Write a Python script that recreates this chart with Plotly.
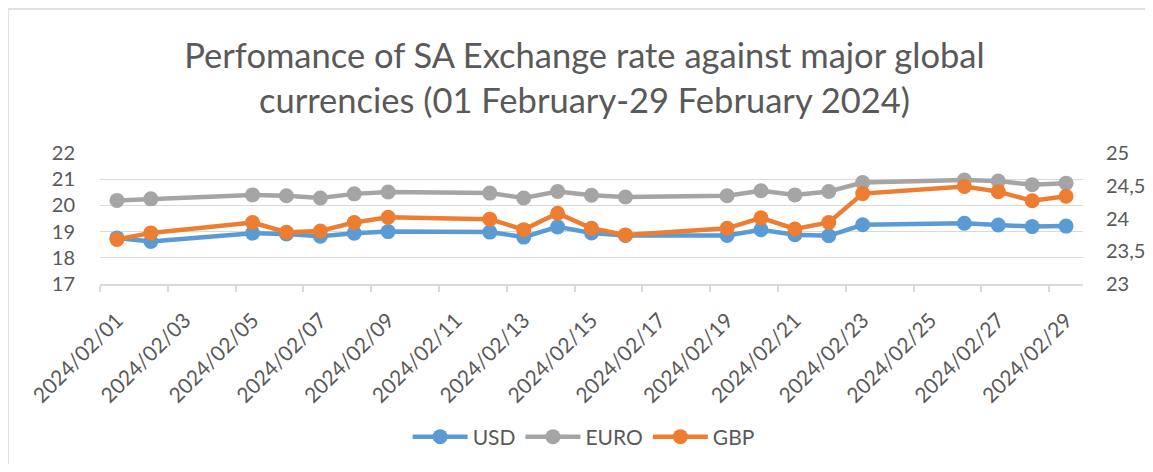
import pandas as pd
import plotly.graph_objects as go

dates = ["2024-02-01", "2024-02-02", "2024-02-05", "2024-02-06", "2024-02-07",
         "2024-02-08", "2024-02-09", "2024-02-12", "2024-02-13", "2024-02-14",
         "2024-02-15", "2024-02-16", "2024-02-19", "2024-02-20", "2024-02-21",
         "2024-02-22", "2024-02-23", "2024-02-26", "2024-02-27", "2024-02-28",
         "2024-02-29"]
usd = [18.76, 18.62, 18.94, 18.91, 18.82, 18.94, 19.00, 18.98, 18.79, 19.18,
       18.95, 18.85, 18.85, 19.07, 18.88, 18.84, 19.26, 19.32, 19.25, 19.19, 19.21]
euro = [20.19, 20.25, 20.40, 20.37, 20.28, 20.44, 20.51, 20.47, 20.28, 20.53,
        20.39, 20.32, 20.37, 20.56, 20.40, 20.53, 20.87, 20.97, 20.93, 20.79, 20.85]
gbp = [23.68, 23.78, 23.94, 23.79, 23.81, 23.94, 24.02, 23.99, 23.83, 24.08,
       23.85, 23.75, 23.85, 24.01, 23.84, 23.94, 24.38, 24.49, 24.41, 24.27, 24.34]

series = [("USD", usd, "#5B9BD5", "y"), ("EURO", euro, "#A5A5A5", "y"), ("GBP", gbp, "#ED7D31", "y2")]

x = pd.to_datetime(dates)
FONT = "Lato"
GREY = "#595959"

# figure geometry (page has an 8px body margin)
W, H = 1137, 456
L, R, T, B = 92, 62, 145, 180
PW, PH = W - L - R, H - T - B

fig = go.Figure()
for name, vals, col, ax in series:
    fig.add_trace(go.Scatter(
        x=x, y=vals, name=name, yaxis=ax, mode="lines+markers",
        xperiod=86400000, xperiodalignment="middle",
        line=dict(color=col, width=4.5),
        marker=dict(color=col, size=15),
    ))

fig.update_layout(
    width=W, height=H,
    paper_bgcolor="white", plot_bgcolor="white",
    margin=dict(l=L, r=R, t=T, b=B, autoexpand=False),
    separators=",.",
    font=dict(family=FONT, color=GREY, size=20),
    title=dict(
        text="Perfomance of SA Exchange rate against major global<br>currencies (01 February-29 February 2024)",
        x=0.507, xanchor="center", y=0.868, yanchor="top", yref="container",
        font=dict(family=FONT, size=34.5, color=GREY),
    ),
    xaxis=dict(
        type="date", range=["2024-02-01", "2024-03-01"],
        tick0="2024-02-01", dtick=2 * 86400000, tickformat="%Y/%m/%d",
        tickangle=-45, ticks="outside", ticklen=6, tickcolor="#D9D9D9", tickwidth=1.5,
        showline=True, linecolor="#D9D9D9", linewidth=1.5, showgrid=False,
        ticklabelshift=17, ticklabelstandoff=8,
        tickfont=dict(size=21, color=GREY), zeroline=False,
    ),
    yaxis=dict(
        range=[17, 22], dtick=1, showgrid=True, gridcolor="#D9D9D9", gridwidth=1.3,
        zeroline=False, ticks="outside", ticklen=20, tickcolor="rgba(0,0,0,0)",
        tickfont=dict(size=20, color=GREY),
    ),
    yaxis2=dict(
        range=[23, 25], dtick=0.5, overlaying="y", side="right", showgrid=False,
        zeroline=False, ticks="outside", ticklen=18, tickcolor="rgba(0,0,0,0)",
        tickfont=dict(size=20, color=GREY),
    ),
    legend=dict(
        orientation="h", x=0.492, xanchor="center", y=-1.168, yanchor="middle",
        font=dict(size=21, color=GREY), itemwidth=55, traceorder="normal",
    ),
    showlegend=True,
)

# chart-area border (left and top edges visible in reference)
bx = (0 - L) / PW
by_top = (PH + T - 1) / PH
fig.add_shape(type="line", xref="paper", yref="paper",
              x0=bx, x1=bx, y0=-(B + 5) / PH, y1=by_top,
              line=dict(color="#D9D9D9", width=1.5))
fig.add_shape(type="line", xref="paper", yref="paper",
              x0=bx, x1=(W - L + 20) / PW, y0=by_top, y1=by_top,
              line=dict(color="#D9D9D9", width=1.5))

fig.write_html("out.html")
